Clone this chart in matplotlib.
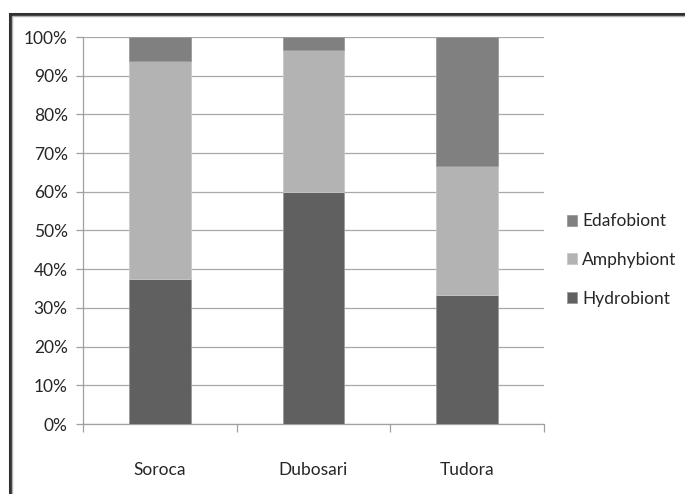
import matplotlib
matplotlib.use("Agg")
import matplotlib.pyplot as plt
import numpy as np
from matplotlib.patches import Rectangle
from matplotlib.ticker import FixedLocator, PercentFormatter

plt.rcParams["font.family"] = ["Lato", "DejaVu Sans"]

sites = ["Soroca", "Dubosari", "Tudora"]
hydrobiont = [37.5, 60.0, 33.3]
amphybiont = [56.25, 36.7, 33.4]
edafobiont = [6.25, 3.3, 33.3]

c_hydro = "#606060"
c_amphy = "#b3b3b3"
c_edafo = "#808080"

fig = plt.figure(figsize=(6.85, 4.94), dpi=100)
ax = fig.add_axes([83 / 685, 1 - 424 / 494, 461 / 685, 387 / 494])

x = np.arange(len(sites))
w = 0.40
hydro = np.array(hydrobiont)
amphy = np.array(amphybiont)
edafo = np.array(edafobiont)
b1 = ax.bar(x, hydro, w, color=c_hydro, edgecolor="#9a9a9a", linewidth=0.6, label="Hydrobiont", zorder=3)
b2 = ax.bar(x, amphy, w, bottom=hydro, color=c_amphy, edgecolor="#c8c8c8", linewidth=0.6, label="Amphybiont", zorder=3)
b3 = ax.bar(x, edafo, w, bottom=hydro + amphy, color=c_edafo, edgecolor="#9a9a9a", linewidth=0.6, label="Edafobiont", zorder=3)

ax.set_xlim(-0.5, 2.5)
ax.set_ylim(0, 100)
ax.set_yticks(np.arange(0, 101, 10))
ax.yaxis.set_major_formatter(PercentFormatter(decimals=0))
ax.yaxis.grid(True, color="#a8a8a8", linewidth=0.9, zorder=0)
ax.tick_params(axis="y", length=5, width=0.9, color="#a0a0a0", labelsize=12.5, pad=6, labelcolor="#262626")

# category labels centred, tick marks on the boundaries
ax.set_xticks(x)
ax.set_xticklabels(sites)
ax.tick_params(axis="x", which="major", length=0, labelsize=12.5, pad=27, labelcolor="#262626")
ax.xaxis.set_minor_locator(FixedLocator([-0.5, 0.5, 1.5, 2.5]))
ax.tick_params(axis="x", which="minor", length=6, width=0.9, color="#a0a0a0")

for s in ["top", "right"]:
    ax.spines[s].set_visible(False)
for s in ["left", "bottom"]:
    ax.spines[s].set_color("#a0a0a0")
    ax.spines[s].set_linewidth(0.9)

handles = [b3, b2, b1]
fig.legend(handles, [h.get_label() for h in handles], loc="center left",
           bbox_to_anchor=(551 / 685, 1 - 260 / 494), frameon=False,
           fontsize=12.5, handlelength=0.6, handleheight=0.6, handletextpad=0.3,
           labelspacing=1.3, labelcolor="#262626")

# outer frame of the chart
fig.patches.append(Rectangle((10 / 685, -0.1), 1.2, 1 - 14 / 494 + 0.1, transform=fig.transFigure,
                             fill=False, edgecolor="#303030", linewidth=2.2))
fig.patches.append(Rectangle((12.5 / 685, -0.1), 1.2, 1 - 16.5 / 494 + 0.1, transform=fig.transFigure,
                             fill=False, edgecolor="#b0b0b0", linewidth=1.0))

fig.savefig("out.png", dpi=100)
